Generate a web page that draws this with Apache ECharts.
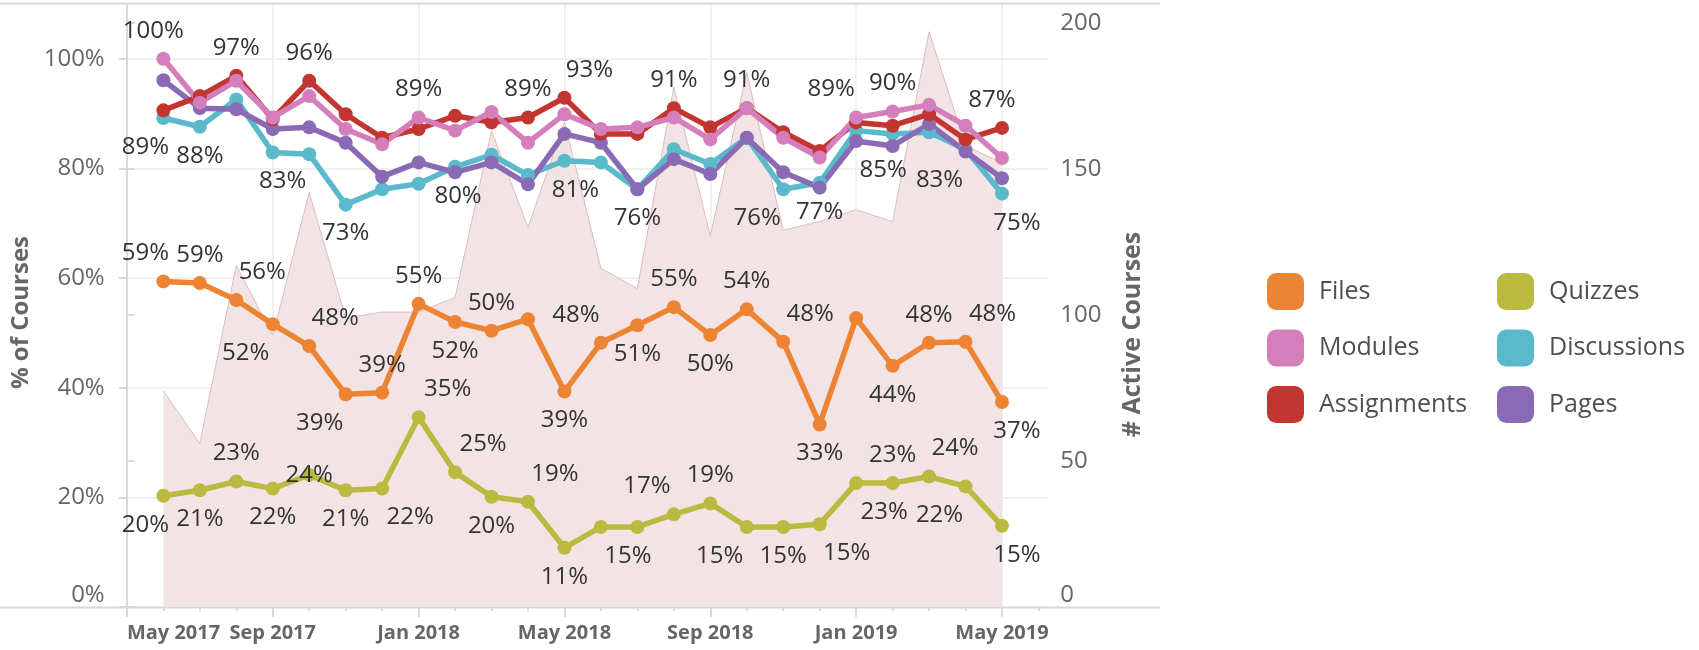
<!DOCTYPE html>
<html>
<head>
<meta charset="utf-8">
<script src="https://cdn.jsdelivr.net/npm/echarts@6/dist/echarts.min.js"></script>
<style>
  html, body { margin: 0; padding: 0; background: #fff; }
  #chart { width: 1699px; height: 650px; }
</style>
</head>
<body>
<div id="chart"></div>
<script>
// months with data, Jun 2017 .. May 2019
const months = ['2017-06', '2017-07', '2017-08', '2017-09', '2017-10', '2017-11', '2017-12',
    '2018-01', '2018-02', '2018-03', '2018-04', '2018-05', '2018-06', '2018-07', '2018-08',
    '2018-09', '2018-10', '2018-11', '2018-12', '2019-01', '2019-02', '2019-03', '2019-04', '2019-05'];
const tickMonths = ['2017-05', '2017-09', '2018-01', '2018-05', '2018-09', '2019-01', '2019-05'];
const tickLabels = ['May 2017', 'Sep 2017', 'Jan 2018', 'May 2018', 'Sep 2018', 'Jan 2019', 'May 2019'];

const activeCourses = [74, 56, 117, 93, 142, 99, 101, 101, 106, 163, 130, 166, 116, 109, 178, 127, 183, 129, 132, 136, 132, 197, 158, 152];
const files = [59.4, 59.1, 56.0, 51.6, 47.6, 38.8, 39.1, 55.3, 52.0, 50.4, 52.5, 39.3, 48.2, 51.4, 54.7, 49.6, 54.3, 48.4, 33.3, 52.7, 44.0, 48.2, 48.4, 37.4];
const quizzes = [20.3, 21.3, 22.9, 21.6, 24.1, 21.3, 21.6, 34.6, 24.6, 20.1, 19.2, 10.8, 14.6, 14.6, 16.9, 18.9, 14.6, 14.6, 15.1, 22.6, 22.6, 23.8, 22.0, 14.8];
const discussions = [89.2, 87.6, 92.6, 82.9, 82.6, 73.4, 76.2, 77.2, 80.3, 82.5, 78.8, 81.4, 81.1, 76.2, 83.5, 80.8, 85.6, 76.2, 77.4, 86.9, 86.3, 86.6, 83.5, 75.4];
const pages = [96.1, 91.0, 90.8, 87.2, 87.5, 84.7, 78.5, 81.1, 79.3, 81.1, 77.1, 86.3, 84.7, 76.2, 81.7, 79.0, 85.6, 79.3, 76.5, 85.0, 84.1, 88.1, 83.1, 78.2];
const assignments = [90.6, 93.2, 96.9, 89.0, 96.0, 89.9, 85.6, 87.2, 89.6, 88.4, 89.3, 92.9, 86.3, 86.3, 91.0, 87.5, 91.0, 86.6, 83.2, 88.4, 87.8, 89.9, 85.3, 87.4];
const modules = [100, 92.0, 96.0, 89.3, 93.2, 87.2, 84.4, 89.3, 86.9, 90.3, 84.7, 89.9, 87.2, 87.5, 89.3, 85.3, 91.0, 85.6, 82.0, 89.3, 90.4, 91.6, 87.8, 81.9];

// label placement: t = above, b = below, m = on the mark, number = sideways shift
const filesLabels = ['t-18', 't', 't+26', 'b-27', 't+26', 'b-26', 't', 't', 'b', 't', '', 'b', 't-25', 'b', 't', 'b', 't', 't+27', 'b', '', 'b', 't', 't+27', 'b+15'];
const quizzesLabels = ['b-18', 'b', 't', 'b', 'm', 'b', 'b+28', 't+29', 't+28', 'b', 't+27', 'b', 'b+27', '', 't-27', 't', 'b-27', 'b', 'b+27', 'b+28', 't', 't+26', 'b-26', 'b+15'];
const discussionsLabels = ['b-18', 'b', '', 'b+10', '', 'b', '', '', 'b+3', '', '', 'b+11', '', 'b', '', '', '', 'b-26', 'b', '', '', '', '', 'b+15'];
const pagesLabels = ['', '', '', '', '', '', '', '', '', '', '', '', '', '', '', '', '', '', '', 'b+27', '', '', 'b-26', ''];
const assignmentsLabels = ['', '', 't', '', 't', '', '', '', '', '', 't', 't+25', '', '', 't', '', 't', '', '', '', '', '', '', 't-10'];
const modulesLabels = ['t-10', '', '', '', '', '', '', 't', '', '', '', '', '', '', '', '', '', '', '', 't-25', 't', '', '', ''];

const FONT = '"Open Sans", "Noto Sans", sans-serif';

function monthIndex(m) {
    const [y, mo] = m.split('-').map(Number);
    return (y - 2017) * 12 + (mo - 5);
}
const xs = months.map(monthIndex);
const tickIdx = tickMonths.map(monthIndex);
const allIdx = [];
for (let i = 0; i <= 25; i++) allIdx.push(i);

function buildData(values, placements) {
    return values.map((v, i) => {
        const p = placements[i];
        if (!p) return { value: [xs[i], v], label: { show: false } };
        const dx = p.length > 1 ? Number(p.slice(1)) : 0;
        const dy = p[0] === 't' ? -28 : (p[0] === 'b' ? 29 : 0);
        return { value: [xs[i], v], label: { show: true, offset: [dx, dy] } };
    });
}

function lineSeries(name, values, placements, color) {
    return {
        name: name,
        type: 'line',
        data: buildData(values, placements),
        symbol: 'circle',
        symbolSize: 14,
        lineStyle: { width: 5.5, color: color },
        itemStyle: { color: color },
        label: {
            position: 'inside',
            fontFamily: FONT,
            fontSize: 24,
            color: '#333',
            formatter: p => Math.round(p.value[1]) + '%'
        },
        emphasis: { disabled: true }
    };
}

const chart = echarts.init(document.getElementById('chart'));

const xMin = -0.17, xMax = 25.27;

chart.setOption({
    animation: false,
    grid: { left: 120.7, right: 650.7, top: 4, bottom: 43 },
    graphic: [
        { type: 'line', shape: { x1: 0, y1: 3.5, x2: 1160, y2: 3.5 }, style: { stroke: '#d9d9d9', lineWidth: 2 }, z: 1 },
        { type: 'line', shape: { x1: 0, y1: 607.5, x2: 1160, y2: 607.5 }, style: { stroke: '#d9d9d9', lineWidth: 2 }, z: 1 }
    ],
    legend: [
        {
            data: ['Files', 'Modules', 'Assignments'],
            orient: 'vertical', left: 1267, top: 273, padding: 0,
            itemWidth: 37, itemHeight: 37, itemGap: 19.5, icon: 'roundRect',
            textStyle: { fontFamily: FONT, fontSize: 25, color: '#4f4f4f', padding: [0, 0, 0, 10] }
        },
        {
            data: ['Quizzes', 'Discussions', 'Pages'],
            orient: 'vertical', left: 1497, top: 273, padding: 0,
            itemWidth: 37, itemHeight: 37, itemGap: 19.5, icon: 'roundRect',
            textStyle: { fontFamily: FONT, fontSize: 25, color: '#4f4f4f', padding: [0, 0, 0, 10] }
        }
    ],
    xAxis: [
        {
            type: 'value', min: xMin, max: xMax, position: 'bottom',
            axisLine: { show: false },
            axisTick: { show: true, length: 10, customValues: tickIdx, lineStyle: { color: '#d0d0d0', width: 1.5 } },
            axisLabel: {
                customValues: tickIdx,
                formatter: v => tickLabels[tickIdx.indexOf(Math.round(v))] || '',
                margin: 16, fontFamily: FONT, fontWeight: 'bold', fontSize: 20, color: '#666',
                alignMinLabel: 'left'
            },
            splitLine: { show: true, lineStyle: { color: '#ececec', width: 1.5 } }
        },
        {
            type: 'value', min: xMin, max: xMax, position: 'bottom',
            axisLine: { show: false },
            axisTick: { show: true, length: 4, customValues: allIdx, lineStyle: { color: '#d0d0d0', width: 1.5 } },
            axisLabel: { show: false },
            splitLine: { show: false }
        }
    ],
    yAxis: [
        {
            type: 'value', min: 0, max: 110, interval: 20, position: 'left',
            axisLine: { show: true, lineStyle: { color: '#d9d9d9', width: 2 } },
            axisTick: { show: true, length: 8, lineStyle: { color: '#d0d0d0', width: 1.5 } },
            axisLabel: {
                formatter: '{value}%', showMaxLabel: false, margin: 16,
                fontFamily: FONT, fontSize: 24, color: '#666',
                verticalAlignMinLabel: 'bottom'
            },
            splitLine: { show: true, lineStyle: { color: '#ebebeb', width: 1.5 } },
            name: '% of Courses', nameLocation: 'middle', nameRotate: 90, nameGap: 80,
            nameTextStyle: { fontFamily: FONT, fontWeight: 'bold', fontSize: 24, color: '#666', padding: [0, 14, 0, 0] }
        },
        {
            type: 'value', min: 0, max: 206.5, interval: 50, position: 'right',
            axisLine: { show: true, lineStyle: { color: '#d9d9d9', width: 2 } },
            axisTick: { show: true, length: 8, lineStyle: { color: '#d0d0d0', width: 1.5 } },
            axisLabel: {
                showMaxLabel: false, margin: 12,
                fontFamily: FONT, fontSize: 24, color: '#666',
                verticalAlignMinLabel: 'bottom'
            },
            splitLine: { show: false },
            name: '# Active Courses', nameLocation: 'middle', nameRotate: 90, nameGap: 72,
            nameTextStyle: { fontFamily: FONT, fontWeight: 'bold', fontSize: 25, color: '#666', padding: [0, 58, 0, 0] }
        }
    ],
    series: [
        {
            name: 'Active Courses',
            type: 'line',
            yAxisIndex: 1,
            data: activeCourses.map((v, i) => [xs[i], v]),
            symbol: 'none',
            lineStyle: { width: 1, color: '#dcbcbe' },
            areaStyle: { color: '#f2e4e5', opacity: 1 },
            emphasis: { disabled: true },
            z: 1
        },
        lineSeries('Files', files, filesLabels, '#ec8434'),
        lineSeries('Quizzes', quizzes, quizzesLabels, '#bcb940'),
        lineSeries('Discussions', discussions, discussionsLabels, '#5ab9ca'),
        lineSeries('Pages', pages, pagesLabels, '#8a6ab5'),
        lineSeries('Assignments', assignments, assignmentsLabels, '#c23530'),
        lineSeries('Modules', modules, modulesLabels, '#d47ebc')
    ]
});
</script>
</body>
</html>
